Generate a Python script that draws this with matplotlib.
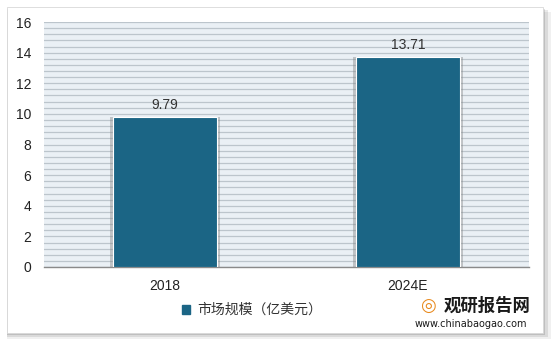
import matplotlib.pyplot as plt
from matplotlib.patches import Rectangle
from matplotlib.ticker import MultipleLocator

plt.rcParams['font.family'] = ['Noto Sans CJK SC', 'DejaVu Sans']

# data
years = ["2018", "2024E"]
market_size = [9.79, 13.71]
legend_label = "市场规模（亿美元）"

bar_color = "#1B6585"

fig = plt.figure(figsize=(5.51, 3.42), dpi=100)

# outer frame with soft shadow
for i, a in enumerate([0.06, 0.09, 0.12]):
    d = 0.005 * (3 - i)
    fig.patches.append(Rectangle((0.012, 0.025 - d), 0.973 + d, 0.955,
                                 transform=fig.transFigure, facecolor="#000000",
                                 alpha=a, edgecolor="none", zorder=-3))
fig.patches.append(Rectangle((0.012, 0.025), 0.973, 0.955, transform=fig.transFigure,
                             facecolor="white", edgecolor="#d8d8d8", lw=0.6, zorder=-2))

ax = fig.add_axes([44 / 551, 1 - 267 / 342, 485 / 551, 245 / 342])
ax.set_facecolor("#EAF0F5")

x = range(len(years))
# shadow behind bars
ax.bar(x, market_size, width=0.455, color="#7f7f7f", alpha=0.4, zorder=2)
bars = ax.bar(x, market_size, width=0.43, color=bar_color, edgecolor="white",
              linewidth=0.8, zorder=3)
for b, v in zip(bars, market_size):
    ax.text(b.get_x() + b.get_width() / 2, v + 0.35, f"{v:.2f}", ha="center",
            va="bottom", fontsize=10, color="#333333", family=["Liberation Sans", "DejaVu Sans"])

ax.set_xlim(-0.5, 1.5)
ax.set_ylim(0, 16)
ax.yaxis.set_major_locator(MultipleLocator(2))
ax.yaxis.set_minor_locator(MultipleLocator(0.4))
ax.grid(axis="y", which="both", color="#BCC5CC", linewidth=0.9, zorder=1)
ax.set_axisbelow(True)
for s in ["top", "right", "left"]:
    ax.spines[s].set_visible(False)
ax.spines["bottom"].set_color("#8a8a8a")
ax.spines["bottom"].set_linewidth(1.0)
ax.tick_params(axis="both", which="both", length=0, labelsize=10, colors="#222222")
ax.tick_params(axis="y", pad=9)
ax.tick_params(axis="x", pad=9)
ax.set_xticks(list(x))
ax.set_xticklabels(years)
for lab in ax.get_xticklabels() + ax.get_yticklabels():
    lab.set_family(["Liberation Sans", "DejaVu Sans"])

# legend
leg = fig.legend([Rectangle((0, 0), 1, 1, color=bar_color)], [legend_label],
                 loc="center", bbox_to_anchor=(252 / 551, 1 - 310 / 342),
                 frameon=True, fontsize=10, handlelength=0.6, handleheight=0.6,
                 handletextpad=0.5, borderpad=0.4, fancybox=False, edgecolor="white")
leg.get_frame().set_facecolor("white")
for t in leg.get_texts():
    t.set_color("#333333")

# watermark logo
fig.text(487 / 551, 1 - 306 / 342, "观研报告网", fontsize=12.5, fontweight="bold",
         color="#1a1a1a", ha="center", va="center")
fig.text(471 / 551, 1 - 324 / 342, "www.chinabaogao.com", fontsize=7,
         color="#1a1a1a", ha="center", va="center", family=["DejaVu Sans"])
fig.text(428 / 551, 1 - 306 / 342, "◎", fontsize=13, color="#E8891C",
         ha="center", va="center", family=["DejaVu Sans"])

fig.savefig("out.png", dpi=100)
